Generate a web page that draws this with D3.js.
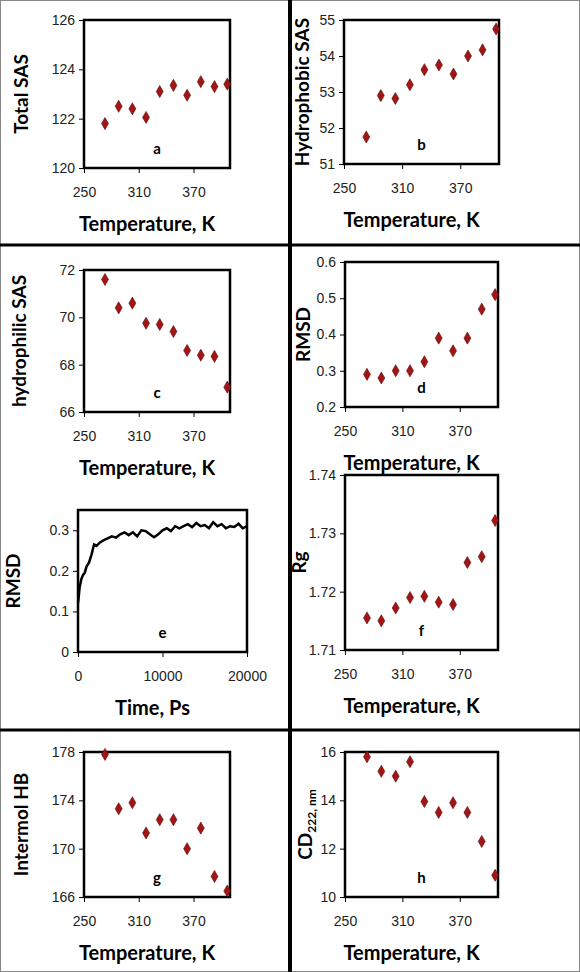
<!DOCTYPE html>
<html><head><meta charset="utf-8">
<script src="https://cdn.jsdelivr.net/npm/d3@7"></script>
<style>body{margin:0;background:#fff}svg{font-family:Lato,"Open Sans",sans-serif}</style>
</head><body><svg id="c" width="580" height="972"></svg>
<script>
const temps = [273, 288, 303, 318, 333, 348, 363, 378, 393, 407];
const tempTicks = [250, 310, 370];
const totalSAS = [121.8, 122.5, 122.4, 122.05, 123.1, 123.35, 122.95, 123.5, 123.3, 123.4];
const hydrophobicSAS = [51.75, 52.9, 52.82, 53.2, 53.62, 53.75, 53.5, 54.0, 54.17, 54.75];
const hydrophilicSAS = [71.6, 70.4, 70.6, 69.75, 69.7, 69.4, 68.6, 68.4, 68.35, 67.05];
const rmsdT = [0.29, 0.28, 0.30, 0.30, 0.325, 0.39, 0.355, 0.39, 0.47, 0.51];
const rgT = [1.7155, 1.715, 1.7172, 1.719, 1.7192, 1.7182, 1.7178, 1.725, 1.726, 1.7322];
const hbT = [177.8, 173.3, 173.8, 171.3, 172.4, 172.4, 170.0, 171.7, 167.7, 166.5];
const cdT = [15.8, 15.2, 15.0, 15.6, 13.95, 13.5, 13.9, 13.5, 12.3, 10.9];
const timePs = [0,200,400,600,800,1000,1300,1600,1900,2200,2600,3000,3500,4000,4500,5000,5500,6000,6500,7000,7500,8000,8500,9000,9500,10000,10500,11000,11500,12000,12500,13000,13500,14000,14500,15000,15500,16000,16500,17000,17500,18000,18500,19000,19500,20000];
const rmsdTime = [0.12,0.16,0.18,0.19,0.195,0.21,0.22,0.24,0.265,0.262,0.27,0.275,0.28,0.285,0.282,0.29,0.295,0.288,0.295,0.285,0.3,0.298,0.29,0.283,0.29,0.3,0.305,0.298,0.31,0.305,0.31,0.315,0.308,0.318,0.31,0.313,0.305,0.32,0.31,0.315,0.305,0.31,0.308,0.316,0.305,0.31];

const svg = d3.select('#c');

// frame and dividers
svg.append('rect').attr('x',0.5).attr('y',0.5).attr('width',579).attr('height',971)
  .style('fill','none').style('stroke','#888');
svg.append('line').attr('x1',290).attr('x2',290).attr('y1',0).attr('y2',972).style('stroke','#000').style('stroke-width',4);
[245, 730].forEach(y => svg.append('line').attr('x1',0).attr('x2',580).attr('y1',y).attr('y2',y)
  .style('stroke','#000').style('stroke-width',3));

function panel(o){
  const g = svg.append('g');
  const x = d3.scaleLinear().domain(o.xd).range([o.x0, o.x1]);
  const y = d3.scaleLinear().domain(o.yd).range([o.y1, o.y0]);
  g.append('g').attr('transform',`translate(0,${o.y1})`)
    .call(d3.axisBottom(x).tickValues(o.xt).tickSize(5).tickPadding(14).tickFormat(d3.format('d')))
    .call(a => a.select('.domain').remove())
    .call(a => a.selectAll('text').style('font-size','14px').style('fill','#222'));
  g.append('g').attr('transform',`translate(${o.x0},0)`)
    .call(d3.axisLeft(y).tickValues(o.yt).tickSize(5).tickPadding(4).tickFormat(o.yf))
    .call(a => a.select('.domain').remove())
    .call(a => a.selectAll('text').style('font-size','14px').style('fill','#222'));
  g.append('rect').attr('x',o.x0).attr('y',o.y0).attr('width',o.x1-o.x0).attr('height',o.y1-o.y0)
    .style('fill','none').style('stroke','#000').style('stroke-width',2.5);
  if (o.line) {
    g.append('path').datum(o.xs.map((d,i)=>[d,o.ys[i]]))
      .attr('d', d3.line().x(d=>x(d[0])).y(d=>y(d[1])))
      .style('fill','none').style('stroke','#000').style('stroke-width',2.5);
  } else {
    g.selectAll('.pt').data(o.ys).join('path')
      .attr('d', d3.symbol(d3.symbolDiamond, 42))
      .attr('transform',(d,i)=>`translate(${x(o.xs[i])},${y(d)})`)
      .style('fill','#a31515').style('stroke','#5a0a0a').style('stroke-width',0.6);
  }
  g.append('text').attr('x',(o.x0+o.x1)/2).attr('y',o.y1-14).attr('text-anchor','middle')
    .style('font-size','15px').style('font-weight','bold').text(o.tag);
  g.append('text').attr('x',(o.x0+o.x1)/2 - 10).attr('y',o.y1+63).attr('text-anchor','middle')
    .style('font-size','20px').style('font-weight','bold').text(o.xl);
  const yl = g.append('text').attr('transform',`translate(${o.yx},${(o.y0+o.y1)/2}) rotate(-90)`)
    .attr('text-anchor','middle').style('font-size','19px').style('font-weight','bold');
  if (o.ylSub) { yl.text(o.yl).append('tspan').attr('dy',4).style('font-size','12px').text(o.ylSub); }
  else yl.text(o.yl);
}

const T = 'Temperature, K', f0 = d3.format('d');
panel({x0:84,x1:230,y0:20,y1:168,xd:[250,410],xt:tempTicks,yd:[120,126],yt:[120,122,124,126],yf:f0,xs:temps,ys:totalSAS,tag:'a',xl:T,yl:'Total SAS',yx:28});
panel({x0:344,x1:499,y0:20,y1:164,xd:[250,410],xt:tempTicks,yd:[51,55],yt:[51,52,53,54,55],yf:f0,xs:temps,ys:hydrophobicSAS,tag:'b',xl:T,yl:'Hydrophobic SAS',yx:309});
panel({x0:84,x1:230,y0:270,y1:412,xd:[250,410],xt:tempTicks,yd:[66,72],yt:[66,68,70,72],yf:f0,xs:temps,ys:hydrophilicSAS,tag:'c',xl:T,yl:'hydrophilic  SAS',yx:26});
panel({x0:345,x1:498,y0:262,y1:407,xd:[250,410],xt:tempTicks,yd:[0.2,0.6],yt:[0.2,0.3,0.4,0.5,0.6],yf:d3.format('.1f'),xs:temps,ys:rmsdT,tag:'d',xl:T,yl:'RMSD',yx:310});
panel({x0:78,x1:247,y0:510,y1:652,xd:[0,20000],xt:[0,10000,20000],yd:[0,0.35],yt:[0,0.1,0.2,0.3],yf:v=>v===0?'0':d3.format('.1f')(v),xs:timePs,ys:rmsdTime,line:true,tag:'e',xl:'Time, Ps',yl:'RMSD',yx:20});
panel({x0:345,x1:498,y0:475,y1:650,xd:[250,410],xt:tempTicks,yd:[1.71,1.74],yt:[1.71,1.72,1.73,1.74],yf:d3.format('.2f'),xs:temps,ys:rgT,tag:'f',xl:T,yl:'Rg',yx:306});
panel({x0:84,x1:230,y0:752,y1:897,xd:[250,410],xt:tempTicks,yd:[166,178],yt:[166,170,174,178],yf:f0,xs:temps,ys:hbT,tag:'g',xl:T,yl:'Intermol HB',yx:28});
panel({x0:345,x1:498,y0:752,y1:897,xd:[250,410],xt:tempTicks,yd:[10,16],yt:[10,12,14,16],yf:f0,xs:temps,ys:cdT,tag:'h',xl:T,yl:'CD',ylSub:'222, nm',yx:312});
</script></body></html>
